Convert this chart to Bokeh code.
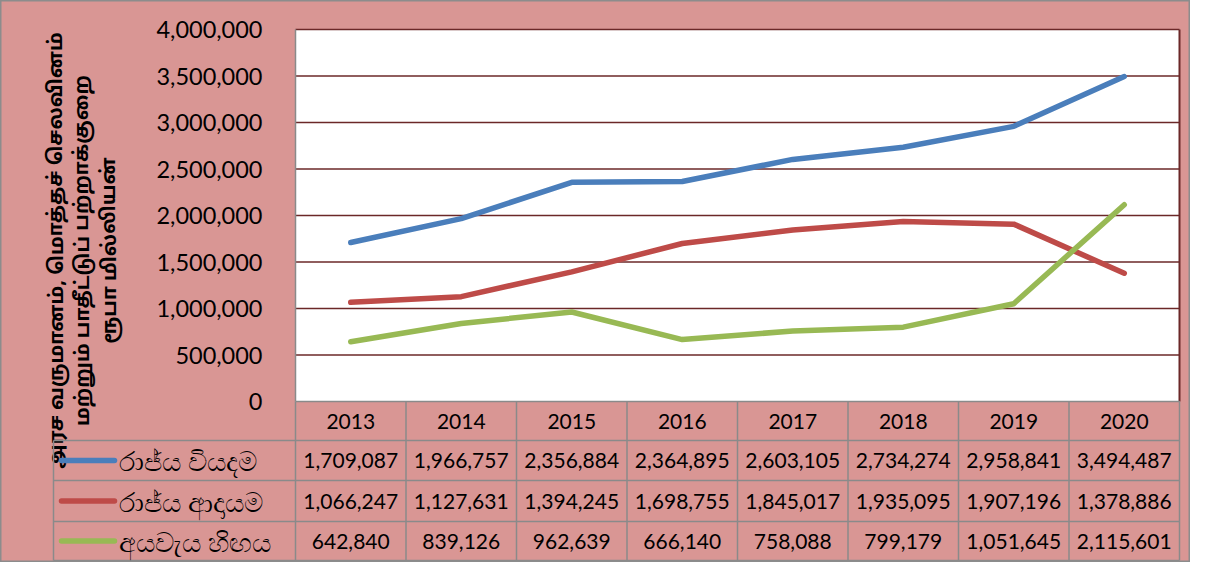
from bokeh.plotting import figure
from bokeh.models import Range1d
from bokeh.embed import file_html
from bokeh.resources import INLINE
from bokeh.core.properties import value

# ---------------- data ----------------
years = ["2013", "2014", "2015", "2016", "2017", "2018", "2019", "2020"]
expenditure = [1709087, 1966757, 2356884, 2364895, 2603105, 2734274, 2958841, 3494487]
revenue = [1066247, 1127631, 1394245, 1698755, 1845017, 1935095, 1907196, 1378886]
deficit = [642840, 839126, 962639, 666140, 758088, 799179, 1051645, 2115601]
series_names = ["රාජ්ය වියදම", "රාජ්ය ආදායම", "අයවැය හිඟය"]
y_ticks = [0, 500000, 1000000, 1500000, 2000000, 2500000, 3000000, 3500000, 4000000]
y_tick_labels = ["0", "500,000", "1,000,000", "1,500,000", "2,000,000",
                 "2,500,000", "3,000,000", "3,500,000", "4,000,000"]
y_title_lines = ["அரச வருமானம், மொத்தச் செலவினம்",
                 "மற்றும் பாதீட்டுப் பற்றாக்குறை",
                 "ரூபா மில்லியன்"]

# ---------------- style ----------------
PINK = "#D99694"
GRID = "#6B2828"
TGRAY = "#8A8A8A"
COLORS = ["#4A7EBB", "#BE4B48", "#98B954"]
NUM_FONT = "Lato"
TAMIL_FONT = "Noto Sans Tamil, Noto Sans, sans-serif"

W, H = 1190, 562
PLOT_L, PLOT_R, PLOT_T, PLOT_B = 295, 1179, 29, 401   # figure pixels
ROWS = [440, 480, 521, 560]                             # table row bottoms (px)
TABLE_L = 53

n = len(years)
colw = (PLOT_R - PLOT_L) / n
xs0 = -0.5 - PLOT_L / colw
xs1 = xs0 + W / colw
ymax = y_ticks[-1]
ypp = ymax / (PLOT_B - PLOT_T)
ye1 = ymax + PLOT_T * ypp
ye0 = ye1 - H * ypp


def X(fx):
    return xs0 + fx / colw


def Y(fy):
    return ye1 - fy * ypp


p = figure(width=W, height=H, x_range=Range1d(xs0, xs1), y_range=Range1d(ye0, ye1),
           output_backend="svg", toolbar_location=None, min_border=0,
           x_axis_location=None, y_axis_location=None)
p.grid.visible = False
p.background_fill_color = PINK
p.border_fill_color = PINK
p.outline_line_color = "#8C8C8C"
p.outline_line_width = 2

xi = list(range(n))
left, right = -0.5, n - 0.5

# plot area
p.quad(left=[left], right=[right], bottom=[0], top=[ymax], fill_color="white", line_color=None)
p.segment(x0=[left] * (len(y_ticks) - 1), x1=[right] * (len(y_ticks) - 1),
          y0=y_ticks[1:], y1=y_ticks[1:], line_color=GRID, line_width=1.5)
p.segment(x0=[right], x1=[right], y0=[0], y1=[ymax], line_color=GRID, line_width=2)
p.segment(x0=[left], x1=[left], y0=[0], y1=[ymax], line_color=TGRAY, line_width=1.5)

# y tick labels
p.text(x=[left] * len(y_ticks), y=y_ticks, text=y_tick_labels, x_offset=-33,
       text_align="right", text_baseline="middle", text_font=value(NUM_FONT),
       text_font_size="23.5px", text_color="black")

# y title
title_x = [57, 83, 110]
for tx, line in zip(title_x, y_title_lines):
    p.text(x=[X(tx)], y=[Y(250)], text=[line], angle=1.5708,
           text_align="center", text_baseline="middle",
           text_font=value(TAMIL_FONT), text_font_size="20px",
           text_font_style="bold", text_color="black")

# series lines
for vals, c in zip([expenditure, revenue, deficit], COLORS):
    p.line(x=xi, y=vals, line_color=c, line_width=5.5, line_cap="round", line_join="round")

# table grid
p.segment(x0=[left], x1=[right], y0=[0], y1=[0], line_color=TGRAY, line_width=1.5)
for r in ROWS:
    p.segment(x0=[X(TABLE_L)], x1=[right], y0=[Y(r)], y1=[Y(r)], line_color=TGRAY, line_width=1.5)
for i in range(n + 1):
    p.segment(x0=[i - 0.5], x1=[i - 0.5], y0=[0], y1=[Y(ROWS[-1])], line_color=TGRAY, line_width=1.5)
p.segment(x0=[X(TABLE_L)], x1=[X(TABLE_L)], y0=[Y(ROWS[0])], y1=[Y(ROWS[-1])],
          line_color=TGRAY, line_width=1.5)

# header
p.text(x=xi, y=[Y((PLOT_B + ROWS[0]) / 2)] * n, text=years, text_align="center",
       text_baseline="middle", text_font=value(NUM_FONT), text_font_size="21px", text_color="black")

# rows
tops = ROWS[:-1]
bots = ROWS[1:]
for k, (vals, name, c) in enumerate(zip([expenditure, revenue, deficit], series_names, COLORS)):
    yc = Y((tops[k] + bots[k]) / 2)
    p.text(x=xi, y=[yc] * n, text=[f"{v:,}" for v in vals], text_align="center",
           text_baseline="middle", text_font=value(NUM_FONT), text_font_size="21px",
           text_color="black")
    p.segment(x0=[X(61)], x1=[X(114)], y0=[yc], y1=[yc], line_color=c, line_width=5.5, line_cap="round")
    p.text(x=[X(118)], y=[yc], text=[name], text_align="left", text_baseline="middle",
           text_font=value("Noto Sans"), text_font_size="27px", text_color="black")

open("out.html", "w").write(file_html(p, INLINE))
